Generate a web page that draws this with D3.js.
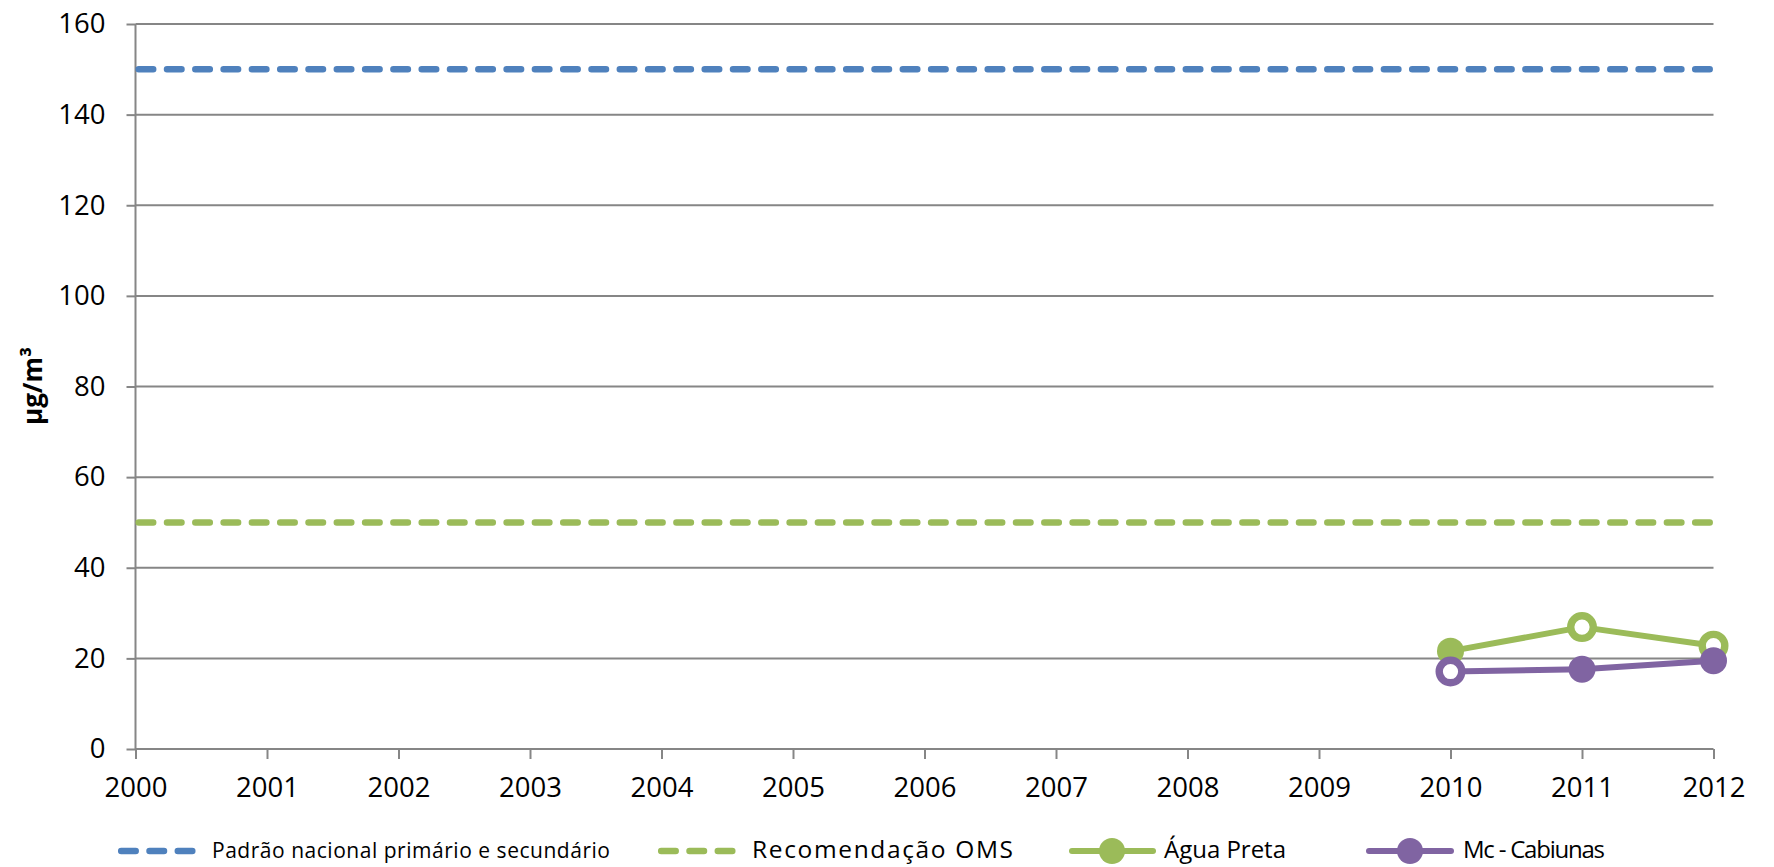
<!DOCTYPE html>
<html>
<head>
<meta charset="utf-8">
<script src="https://cdn.jsdelivr.net/npm/d3@7"></script>
<style>
  html, body { margin: 0; padding: 0; background: #fff; }
  svg { display: block; }
  text { font-family: "Open Sans", "Noto Sans", sans-serif; fill: #000; }
</style>
</head>
<body>
<svg id="chart" width="1774" height="867"></svg>
<script>
// ---- data ----
const years = ["2000","2001","2002","2003","2004","2005","2006","2007","2008","2009","2010","2011","2012"];
const yTicks = [0, 20, 40, 60, 80, 100, 120, 140, 160];
const padraoNacional = [150,150,150,150,150,150,150,150,150,150,150,150,150];
const recomendacaoOMS = [50,50,50,50,50,50,50,50,50,50,50,50,50];
const aguaPreta = [null,null,null,null,null,null,null,null,null,null,21.6,26.9,22.8];
const mcCabiunas = [null,null,null,null,null,null,null,null,null,null,17.1,17.6,19.5];
// marker style per point: true = filled, false = hollow (white centre)
const aguaPretaFilled = [null,null,null,null,null,null,null,null,null,null,true,false,false];
const mcCabiunasFilled = [null,null,null,null,null,null,null,null,null,null,false,true,true];
const seriesNames = ["Padrão nacional primário e secundário", "Recomendação OMS", "Água Preta", "Mc - Cabiunas"];
const yTitle = "µg/m³";

// ---- layout ----
const colors = { blue: "#4F81BD", green: "#9BBB59", purple: "#8064A2", grid: "#868686" };
const plotL = 135.5, plotR = 1713.5, plotT = 24, plotB = 749;
const svg = d3.select("#chart");

const x = d3.scalePoint().domain(years).range([plotL, plotR]).padding(0);
const y = d3.scaleLinear().domain([0, 160]).range([plotB, plotT]);

// gridlines
svg.append("g").selectAll("line").data(yTicks.filter(d => d > 0)).join("line")
  .attr("x1", plotL).attr("x2", plotR)
  .attr("y1", d => y(d)).attr("y2", d => y(d))
  .attr("stroke", colors.grid).attr("stroke-width", 2);

// y axis
const yAxis = svg.append("g").attr("transform", `translate(${plotL},0)`)
  .call(d3.axisLeft(y).tickValues(yTicks).tickSize(9).tickPadding(21).tickFormat(d3.format("d")));
yAxis.select(".domain").attr("stroke", colors.grid).attr("stroke-width", 2).attr("d", `M0,${plotB}V${plotT}`);
yAxis.selectAll(".tick line").attr("stroke", colors.grid).attr("stroke-width", 2);
yAxis.selectAll(".tick text").style("font-size", "27.5px").style("font-family", '"Open Sans", sans-serif').attr("fill", "#000");

// x axis
const xAxis = svg.append("g").attr("transform", `translate(0,${plotB})`)
  .call(d3.axisBottom(x).tickSize(10).tickPadding(18));
xAxis.select(".domain").attr("stroke", colors.grid).attr("stroke-width", 2).attr("d", `M${plotL},0H${plotR}`);
xAxis.selectAll(".tick line").attr("stroke", colors.grid).attr("stroke-width", 2);
xAxis.selectAll(".tick text").style("font-size", "27.5px").style("font-family", '"Open Sans", sans-serif').attr("fill", "#000").attr("dy", "0.71em");

// y title
svg.append("text")
  .attr("transform", `translate(42,386) rotate(-90)`)
  .attr("text-anchor", "middle")
  .style("font-size", "26px").style("font-weight", "bold")
  .text(yTitle);

// line generator
const line = d3.line().defined(d => d.v != null).x(d => x(d.year)).y(d => y(d.v));
const toPts = arr => arr.map((v, i) => ({ year: years[i], v }));

// dashed reference lines
const dash = "14.5 13.8";
svg.append("path").datum(toPts(padraoNacional)).attr("d", line)
  .attr("fill", "none").attr("stroke", colors.blue).attr("stroke-width", 6.5)
  .attr("stroke-dasharray", dash).attr("stroke-linecap", "round")
  .attr("transform", "translate(3.2,0)");
svg.append("path").datum(toPts(recomendacaoOMS)).attr("d", line)
  .attr("fill", "none").attr("stroke", colors.green).attr("stroke-width", 6.5)
  .attr("stroke-dasharray", dash).attr("stroke-linecap", "round")
  .attr("transform", "translate(3.2,0)");

function drawSeries(vals, filled, color) {
  const pts = toPts(vals).map((p, i) => ({ ...p, filled: filled[i] }));
  const g = svg.append("g");
  g.append("path").datum(pts).attr("d", line)
    .attr("fill", "none").attr("stroke", color).attr("stroke-width", 6).attr("stroke-linejoin", "round");
  g.selectAll("circle").data(pts.filter(p => p.v != null)).join("circle")
    .attr("cx", p => x(p.year)).attr("cy", p => y(p.v))
    .attr("r", p => p.filled ? 13.5 : 11.3)
    .attr("fill", p => p.filled ? color : "#fff")
    .attr("stroke", p => p.filled ? "none" : color)
    .attr("stroke-width", p => p.filled ? 0 : 7.4);
}
drawSeries(aguaPreta, aguaPretaFilled, colors.green);
drawSeries(mcCabiunas, mcCabiunasFilled, colors.purple);

// legend
const legY = 851, textBase = 858;
const leg = svg.append("g");
function legDash(x1, x2, color) {
  leg.append("line").attr("x1", x1 + 3.2).attr("x2", x2).attr("y1", legY).attr("y2", legY)
    .attr("stroke", color).attr("stroke-width", 6.5).attr("stroke-dasharray", dash).attr("stroke-linecap", "round");
}
function legMarker(x1, x2, cx, color) {
  leg.append("line").attr("x1", x1 + 3).attr("x2", x2 - 3).attr("y1", legY).attr("y2", legY)
    .attr("stroke", color).attr("stroke-width", 6).attr("stroke-linecap", "round");
  leg.append("circle").attr("cx", cx).attr("cy", legY).attr("r", 13).attr("fill", color);
}
function legText(tx, s, size, len) {
  const t = leg.append("text").attr("x", tx).attr("y", textBase).style("font-size", size + "px").text(s);
  if (len) t.attr("textLength", len).attr("lengthAdjust", "spacing");
}
legDash(118, 200, colors.blue);
legText(212, seriesNames[0], 21, 398);
legDash(658, 740, colors.green);
legText(752, seriesNames[1], 24.5, 261);
legMarker(1069, 1156, 1112, colors.green);
legText(1164, seriesNames[2], 24, 122);
legMarker(1366, 1454, 1410, colors.purple);
legText(1463, seriesNames[3], 24, 142);
</script>
</body>
</html>
